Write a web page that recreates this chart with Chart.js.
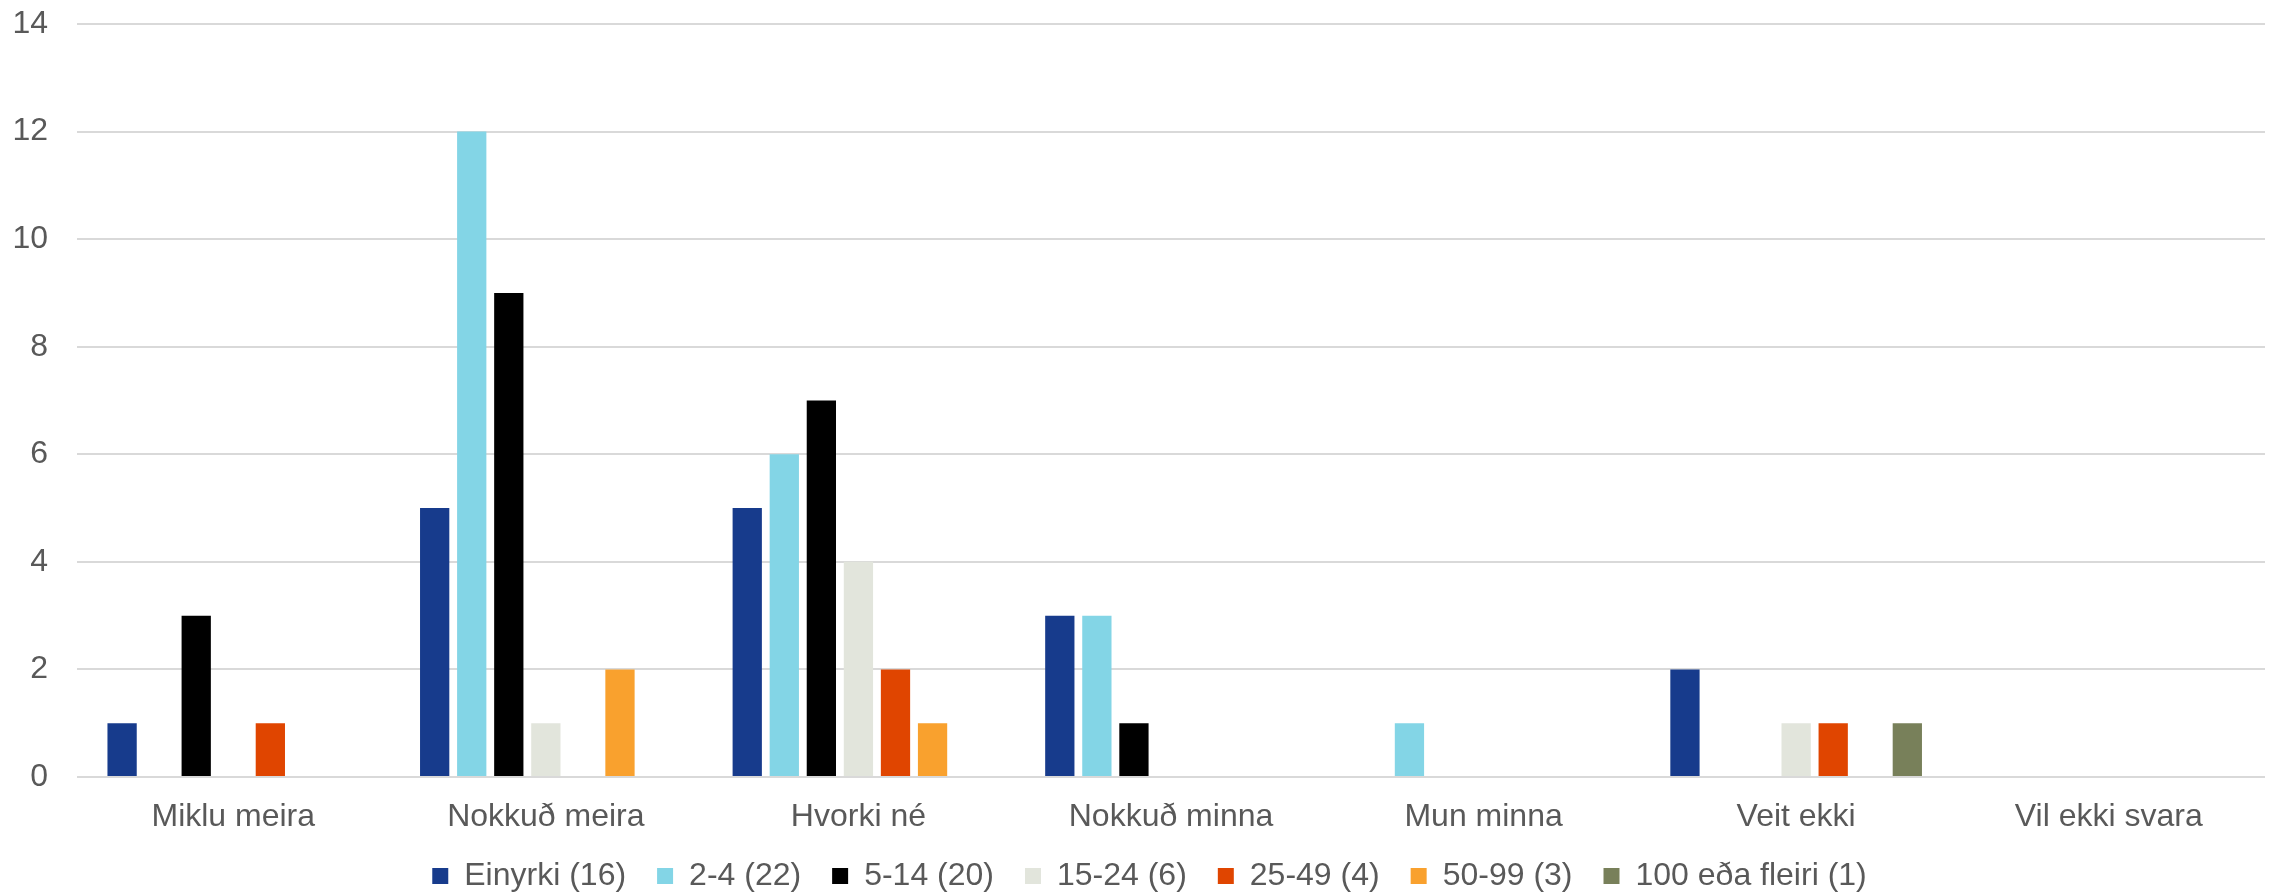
<!DOCTYPE html>
<html>
<head>
<meta charset="utf-8">
<script src="https://cdn.jsdelivr.net/npm/chart.js@4"></script>
<style>
    html, body { margin: 0; padding: 0; background: #fff; }
    #wrap { width: 2272px; height: 893px; position: relative; }
</style>
</head>
<body>
<div id="wrap"><canvas id="chart"></canvas></div>
<script>
// ============================================
// DATA
// ============================================
const categories = ['Miklu meira', 'Nokkuð meira', 'Hvorki né', 'Nokkuð minna', 'Mun minna', 'Veit ekki', 'Vil ekki svara']
const seriesNames = ['Einyrki (16)', '2-4 (22)', '5-14 (20)', '15-24 (6)', '25-49 (4)', '50-99 (3)', '100 eða fleiri (1)']

const einyrki   = [1, 5, 5, 3, 0, 2, 0]
const s2to4     = [0, 12, 6, 3, 1, 0, 0]
const s5to14    = [3, 9, 7, 1, 0, 0, 0]
const s15to24   = [0, 1, 4, 0, 0, 1, 0]
const s25to49   = [1, 0, 2, 0, 0, 1, 0]
const s50to99   = [0, 2, 1, 0, 0, 0, 0]
const s100plus  = [0, 0, 0, 0, 0, 1, 0]

const yTicks = [0, 2, 4, 6, 8, 10, 12, 14]

const seriesValues = [einyrki, s2to4, s5to14, s15to24, s25to49, s50to99, s100plus]
const colors = ['#173B8C', '#83D5E6', '#000000', '#E2E5DC', '#E04500', '#F9A12E', '#78805A']

const font = { family: 'Liberation Sans, Arial, sans-serif', size: 32 }
const textColor = '#595959'

// nudge the legend a bit to the right, like the original
const legendShift = {
    id: 'legendShift',
    afterLayout(chart) {
        chart.legend.left += 17
        chart.legend.right += 17
    }
}

// ============================================
// RENDER CHART
// ============================================
const ctx = document.getElementById('chart').getContext('2d')

new Chart(ctx, {
    type: 'bar',
    data: {
        labels: categories,
        datasets: seriesValues.map((vals, i) => ({
            label: seriesNames[i],
            data: vals,
            backgroundColor: colors[i],
            borderWidth: 0,
            categoryPercentage: 0.83,
            barPercentage: 0.79
        }))
    },
    plugins: [legendShift],
    options: {
        responsive: true,
        maintainAspectRatio: false,
        devicePixelRatio: 1,
        animation: false,
        layout: { padding: { top: 24, right: 7, left: 0, bottom: -9 } },
        plugins: {
            legend: {
                position: 'bottom',
                labels: {
                    font: font,
                    color: textColor,
                    boxWidth: 16,
                    boxHeight: 16,
                    padding: 31
                }
            },
            tooltip: { enabled: false }
        },
        scales: {
            x: {
                afterFit: (scale) => { scale.height = 52 },
                grid: { display: false },
                border: { display: false },
                ticks: { font: font, color: textColor, padding: 13, maxRotation: 0, autoSkip: false }
            },
            y: {
                min: 0,
                max: 14,
                afterFit: (scale) => {
                    scale.width = 77
                    scale.paddingTop = 0
                },
                afterBuildTicks: (scale) => { scale.ticks = yTicks.map(v => ({ value: v })) },
                grid: { color: '#D9D9D9', lineWidth: 2, drawTicks: false },
                border: { display: false },
                ticks: { font: font, color: textColor, padding: 29 }
            }
        }
    }
})
</script>
</body>
</html>
